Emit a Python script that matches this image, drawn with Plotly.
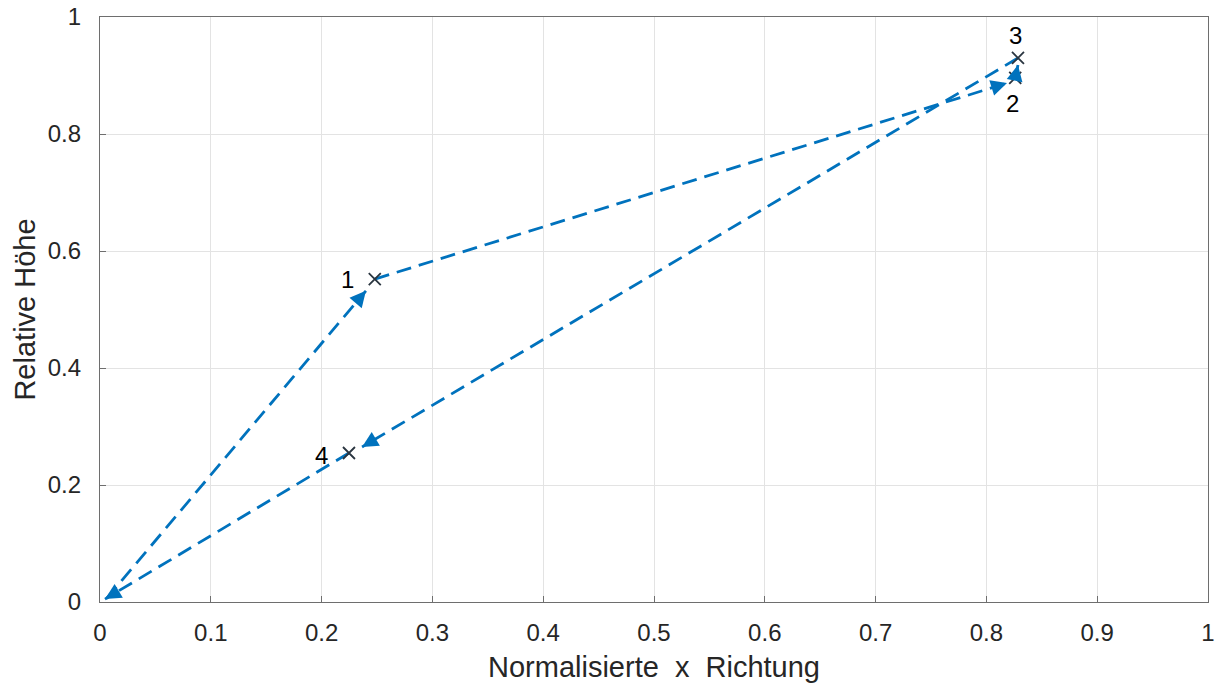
import math
import plotly.graph_objects as go

# ---- data ----
point_labels = ["1", "2", "3", "4"]
point_x = [0.248, 0.826, 0.8285, 0.2247]
point_y = [0.552, 0.896, 0.930, 0.2547]

# arrows (start -> tip), in the order of the cycle 0 -> 1 -> 2 -> 3 -> 4 -> 0
arrow_x0 = [0.006, 0.248, 0.826, 0.8285, 0.2247]
arrow_y0 = [0.006, 0.552, 0.896, 0.930, 0.2547]
arrow_x1 = [0.240, 0.8186, 0.8285, 0.2365, 0.0045]
arrow_y1 = [0.532, 0.887, 0.918, 0.265, 0.005]

x_ticks = [0, 0.1, 0.2, 0.3, 0.4, 0.5, 0.6, 0.7, 0.8, 0.9, 1]
y_ticks = [0, 0.2, 0.4, 0.6, 0.8, 1]

# ---- styling ----
W, H = 1223, 687
ML, MR, MT, MB = 100, 15, 17, 85
PW, PH = W - ML - MR, H - MT - MB
BLUE = "#0072BD"
FONT = "Liberation Sans, Arial, sans-serif"
TXT = "#262626"

fig = go.Figure()

annotations = []
for x0, y0, x1, y1 in zip(arrow_x0, arrow_y0, arrow_x1, arrow_y1):
    fig.add_trace(go.Scatter(
        x=[x0, x1], y=[y0, y1], mode="lines",
        line=dict(color=BLUE, width=2.8, dash="15px,8px"),
        hoverinfo="skip", showlegend=False,
    ))
    dxp = (x1 - x0) * PW
    dyp = (y1 - y0) * PH
    L = math.hypot(dxp, dyp) or 1.0
    back = 9.0
    annotations.append(dict(
        x=x1, y=y1, ax=x1 - back * dxp / L / PW, ay=y1 - back * dyp / L / PH,
        xref="x", yref="y", axref="x", ayref="y",
        showarrow=True, arrowhead=2, arrowsize=1.6, arrowwidth=2,
        arrowcolor=BLUE, text="", standoff=0,
    ))

fig.add_trace(go.Scatter(
    x=point_x, y=point_y, mode="markers",
    marker=dict(symbol="x-thin", size=12, line=dict(color="#2a3540", width=1.8)),
    hoverinfo="skip", showlegend=False,
))

label_shift = {"1": (-27, 0), "2": (-3, -26), "3": (-2, 22), "4": (-27, -2)}
for lab, x, y in zip(point_labels, point_x, point_y):
    xs, ys = label_shift[lab]
    annotations.append(dict(
        x=x, y=y, xref="x", yref="y", text=lab, showarrow=False,
        xshift=xs, yshift=ys, font=dict(family=FONT, size=24, color="black"),
    ))

axis_common = dict(
    showgrid=True, gridcolor="#e3e3e3", gridwidth=1,
    showline=True, linecolor="#6e6e6e", linewidth=1.3, mirror=True,
    ticks="inside", ticklen=6, tickcolor="#6e6e6e",
    zeroline=False, automargin=False, ticklabeloverflow="allow",
    tickfont=dict(family=FONT, size=24, color=TXT),
)

fig.update_layout(
    width=W, height=H,
    margin=dict(l=ML, r=MR, t=MT, b=MB, pad=0, autoexpand=False),
    paper_bgcolor="white", plot_bgcolor="white",
    annotations=annotations,
    xaxis=dict(
        range=[0, 1], tickvals=x_ticks, ticktext=[f"{v:g}" for v in x_ticks],
        ticklabelstandoff=9,
        title=dict(text="Normalisierte\u00a0\u00a0x\u00a0\u00a0Richtung",
                   font=dict(family=FONT, size=29, color=TXT), standoff=11),
        **axis_common,
    ),
    yaxis=dict(
        range=[0, 1], tickvals=y_ticks, ticktext=[f"{v:g}" for v in y_ticks],
        ticklabelstandoff=13,
        title=dict(text="Relative Höhe",
                   font=dict(family=FONT, size=29, color=TXT), standoff=3),
        **axis_common,
    ),
)

fig.write_html(
    "out.html",
    config={"displayModeBar": False},
    post_script="document.body.style.margin='0';document.body.style.overflow='hidden';",
)
